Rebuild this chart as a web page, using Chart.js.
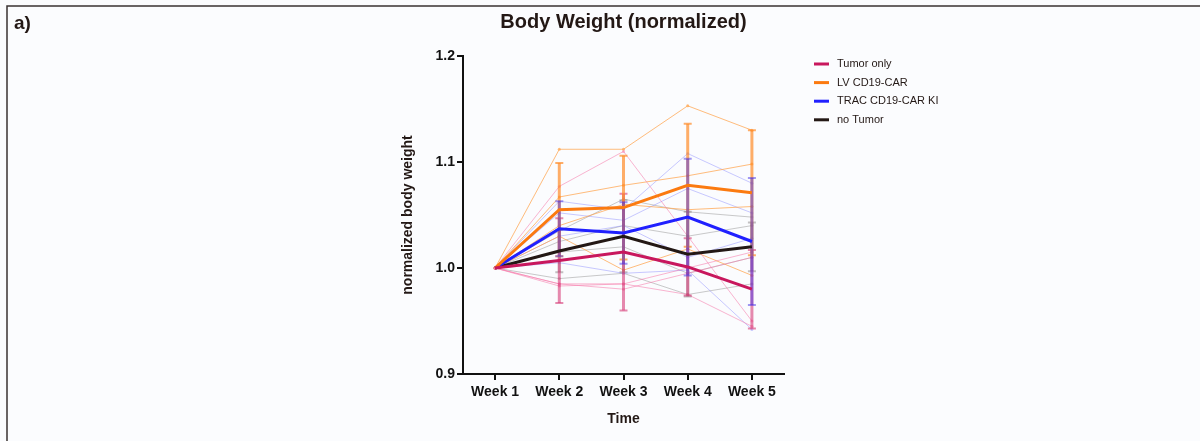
<!DOCTYPE html>
<html>
<head>
<meta charset="utf-8">
<script src="https://cdn.jsdelivr.net/npm/chart.js@4.4.0/dist/chart.umd.min.js"></script>
<style>
  html, body { margin: 0; padding: 0; background: #fbfcfe; }
</style>
</head>
<body>
<canvas id="myChart" width="1200" height="441"></canvas>
<script>
const labels = ["Week 1", "Week 2", "Week 3", "Week 4", "Week 5"];
const yTicks = [0.9, 1.0, 1.1, 1.2];

// group means
const tumorMean = [1.0, 1.007, 1.015, 1.001, 0.980];
const lvMean = [1.0, 1.055, 1.057, 1.078, 1.071];
const tracMean = [1.0, 1.037, 1.033, 1.048, 1.025];
const noTumorMean = [1.0, 1.016, 1.030, 1.013, 1.020];

// standard deviations
const tumorSd = [0, 0.040, 0.055, 0.027, 0.037];
const lvSd = [0, 0.044, 0.049, 0.058, 0.059];
const tracSd = [0, 0.026, 0.029, 0.055, 0.060];
const noTumorSd = [0, 0.020, 0.034, 0.040, 0.023];

// single mice
const tumorMice = [
    [1.0, 1.077, 1.110, 1.030, 0.950],
    [1.0, 0.985, 0.985, 1.000, 1.015],
    [1.0, 0.985, 0.980, 0.995, 1.010],
    [1.0, 0.983, 0.985, 0.975, 0.945],
];
const lvMice = [
    [1.0, 1.112, 1.112, 1.153, 1.130],
    [1.0, 1.067, 1.078, 1.087, 1.098],
    [1.0, 1.040, 1.060, 1.055, 1.058],
    [1.0, 1.030, 0.998, 1.018, 0.993],
];
const tracMice = [
    [1.0, 1.063, 1.055, 1.108, 1.080],
    [1.0, 1.052, 1.045, 1.075, 1.052],
    [1.0, 1.030, 1.040, 1.010, 1.028],
    [1.0, 1.005, 0.995, 0.998, 0.942],
];
const noTumorMice = [
    [1.0, 1.035, 1.065, 1.053, 1.048],
    [1.0, 1.025, 1.040, 1.030, 1.040],
    [1.0, 1.015, 1.020, 0.995, 1.010],
    [1.0, 0.990, 0.995, 0.975, 0.985],
];

const groups = [
    { name: "Tumor only", mean: tumorMean, sd: tumorSd, mice: tumorMice,
      color: "#c8175d", light: "rgba(245, 120, 170, 0.55)", bar: "rgba(215, 60, 120, 0.6)" },
    { name: "LV CD19-CAR", mean: lvMean, sd: lvSd, mice: lvMice,
      color: "#fb7a10", light: "rgba(255, 165, 80, 0.75)", bar: "rgba(255, 140, 40, 0.7)" },
    { name: "TRAC CD19-CAR KI", mean: tracMean, sd: tracSd, mice: tracMice,
      color: "#2020ff", light: "rgba(120, 120, 255, 0.4)", bar: "rgba(70, 50, 230, 0.5)" },
    { name: "no Tumor", mean: noTumorMean, sd: noTumorSd, mice: noTumorMice,
      color: "#231815", light: "rgba(150, 150, 150, 0.5)", bar: "rgba(90, 80, 80, 0.35)" },
];
// error bars: no Tumor at the back, TRAC on top
const barOrder = [3, 0, 1, 2];

const textColor = "#231815";
const fontFamily = "'Liberation Sans', Arial, Helvetica, sans-serif";

const datasets = [];
groups.forEach((g) => {
    g.mice.forEach((m) => {
        datasets.push({
            data: m,
            borderColor: g.light,
            backgroundColor: g.light,
            borderWidth: 1,
            pointRadius: 1.5,
            pointBorderWidth: 0,
            order: 2,
        });
    });
});
groups.forEach((g) => {
    datasets.push({
        label: g.name,
        data: g.mean,
        borderColor: g.color,
        backgroundColor: g.color,
        borderWidth: 3,
        pointRadius: 0,
        order: 1,
        isMean: true,
    });
});

let barsDone = false;

function drawErrorBars(chart) {
    const ctx = chart.ctx;
    const x = chart.scales.x;
    const y = chart.scales.y;
    ctx.save();
    barOrder.forEach((gi) => {
        const g = groups[gi];
        ctx.strokeStyle = g.bar;
        g.mean.forEach((m, i) => {
            if (!g.sd[i]) return;
            const px = x.getPixelForValue(i);
            const top = y.getPixelForValue(m + g.sd[i]);
            const bot = y.getPixelForValue(m - g.sd[i]);
            ctx.lineWidth = 3;
            ctx.beginPath();
            ctx.moveTo(px, top);
            ctx.lineTo(px, bot);
            ctx.stroke();
            ctx.lineWidth = 2;
            ctx.beginPath();
            ctx.moveTo(px - 4, top);
            ctx.lineTo(px + 4, top);
            ctx.moveTo(px - 4, bot);
            ctx.lineTo(px + 4, bot);
            ctx.stroke();
        });
    });
    ctx.restore();
}

const extras = {
    id: "extras",
    beforeDraw(chart) {
        const ctx = chart.ctx;
        const area = chart.chartArea;
        ctx.save();
        // panel frame
        ctx.strokeStyle = "#3a3232";
        ctx.lineWidth = 1.5;
        ctx.beginPath();
        ctx.moveTo(7, 441);
        ctx.lineTo(7, 6);
        ctx.lineTo(1200, 6);
        ctx.stroke();
        ctx.fillStyle = textColor;
        ctx.textBaseline = "middle";
        ctx.font = "bold 19px " + fontFamily;
        ctx.textAlign = "left";
        ctx.fillText("a)", 14, 24);
        ctx.font = "bold 20px " + fontFamily;
        ctx.textAlign = "center";
        ctx.fillText("Body Weight (normalized)", (area.left + area.right) / 2, 22);
        ctx.restore();
    },
    beforeDatasetsDraw() {
        barsDone = false;
    },
    beforeDatasetDraw(chart, args) {
        if (!barsDone && chart.data.datasets[args.index].isMean) {
            drawErrorBars(chart);
            barsDone = true;
        }
    },
    afterDraw(chart) {
        const ctx = chart.ctx;
        ctx.save();
        ctx.font = "11px " + fontFamily;
        ctx.textBaseline = "middle";
        ctx.textAlign = "left";
        groups.forEach((g, i) => {
            const yy = 64 + i * 18.6;
            ctx.strokeStyle = g.color;
            ctx.lineWidth = 3;
            ctx.beginPath();
            ctx.moveTo(814, yy);
            ctx.lineTo(829, yy);
            ctx.stroke();
            ctx.fillStyle = textColor;
            ctx.fillText(g.name, 837, yy);
        });
        ctx.restore();
    }
};

const ctx = document.querySelector("#myChart").getContext("2d");

const config = {
    type: "line",
    data: { labels, datasets },
    options: {
        responsive: false,
        animation: false,
        layout: { padding: { left: 398, top: 56, right: 416, bottom: 7 } },
        plugins: {
            legend: { display: false },
            tooltip: { enabled: false },
        },
        scales: {
            x: {
                offset: true,
                afterFit: (scale) => { scale.height = 60; },
                grid: { drawOnChartArea: false, drawTicks: true, tickLength: 6, color: "#111", lineWidth: 2 },
                border: { color: "#111", width: 2 },
                ticks: { color: "#111", padding: 4, font: { family: fontFamily, size: 14, weight: "bold" } },
                title: {
                    display: true,
                    text: "Time",
                    color: textColor,
                    padding: { top: 0, bottom: 6 },
                    font: { family: fontFamily, size: 14, weight: "bold" },
                },
            },
            y: {
                min: 0.9,
                max: 1.2,
                afterFit: (scale) => { scale.width = 65; },
                afterBuildTicks: (scale) => {
                    scale.ticks = yTicks.map((v) => ({ value: v }));
                },
                grid: { drawOnChartArea: false, drawTicks: true, tickLength: 6, color: "#111", lineWidth: 2 },
                border: { color: "#111", width: 2 },
                ticks: {
                    color: "#111",
                    padding: 2,
                    font: { family: fontFamily, size: 14, weight: "bold" },
                    callback: (value) => Number(value).toFixed(1),
                },
                title: {
                    display: true,
                    text: "normalized body weight",
                    color: textColor,
                    padding: { top: 2, bottom: 0 },
                    font: { family: fontFamily, size: 14, weight: "bold" },
                },
            },
        },
    },
    plugins: [extras],
};

const myChart = new Chart(ctx, config);
</script>
</body>
</html>
